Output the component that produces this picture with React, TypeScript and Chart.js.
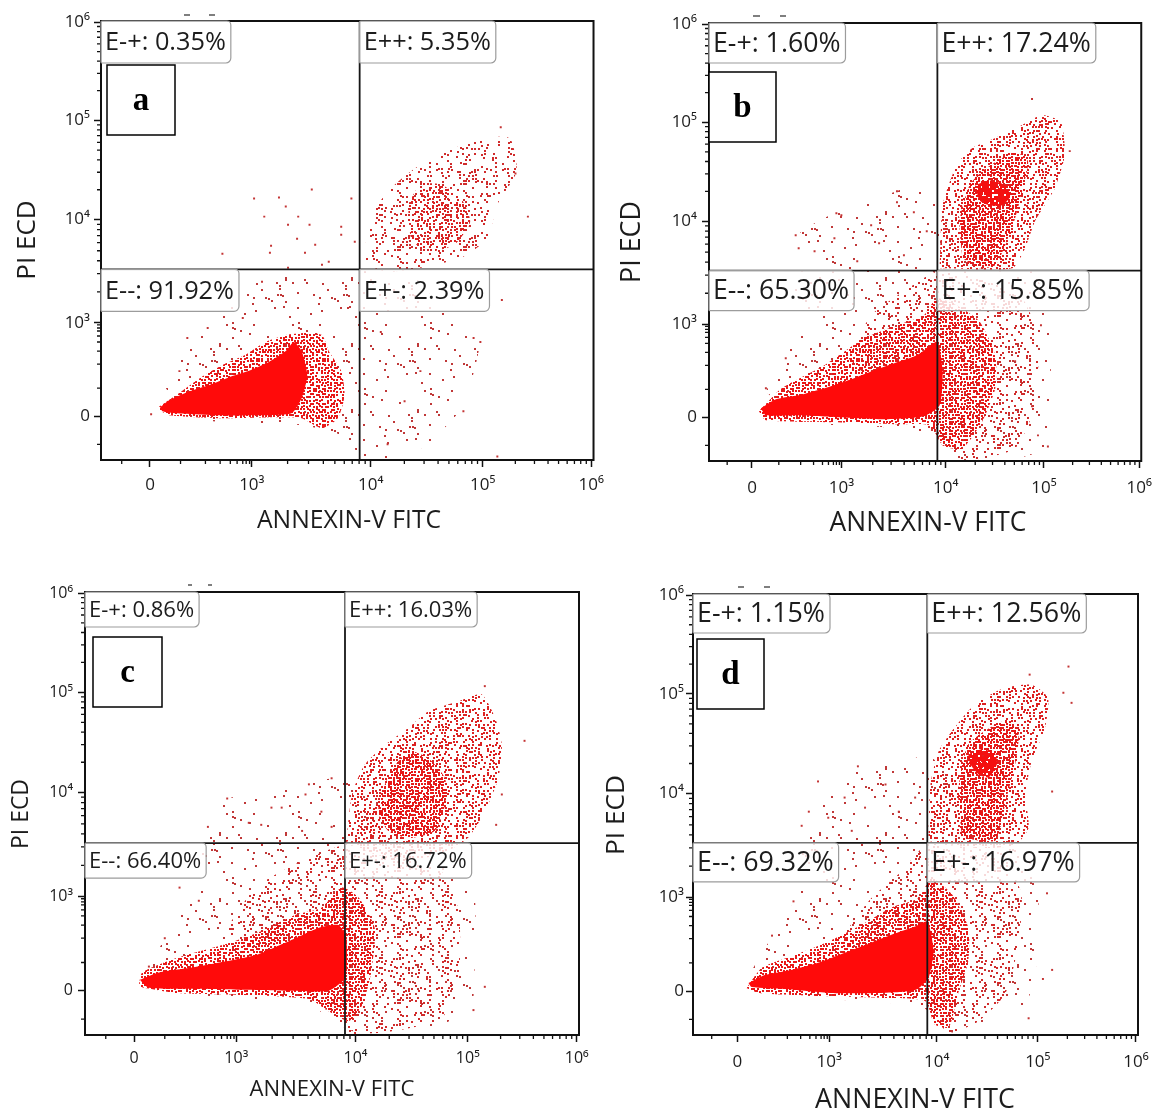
import React, { useEffect, useRef } from 'react';
import { Chart, registerables } from 'chart.js';

Chart.register(...registerables);

type Pt = [number, number];

// Both axes use biexponential display units (decades); "0" sits a little below 10³.
const X_MIN = 1.667;
const X_MAX = 6.02;
const Y_MIN = 1.634;
const Y_MAX = 6.01;
const X_TICK_POS = [2.1, 3.0, 4.05, 5.04, 6.0];
const Y_TICK_POS = [2.07, 3.0, 4.03, 5.02, 6.0];
const TICK_LABELS = ['0', '10³', '10⁴', '10⁵', '10⁶'];
const X_LOW_MINOR = [1.85, 2.37, 2.59, 2.72, 2.81, 2.87, 2.92, 2.95, 2.98];
const Y_LOW_MINOR = [1.79, 2.35, 2.59, 2.72, 2.81, 2.87, 2.92, 2.95, 2.98];
const QUAD_NAMES = ['E-+', 'E++', 'E--', 'E+-'];
const X_TITLE = 'ANNEXIN-V FITC';
const Y_TITLE = 'PI ECD';

// ---------- panel a ----------
const A_QUAD = ['0.35', '5.35', '91.92', '2.39'];
const A_GATE: Pt = [3.953, 3.535];
const A_CORE: Pt[] = [[2.19,2.16],[2.27,2.23],[2.45,2.32],[2.62,2.38],[2.80,2.46],[2.97,2.52],[3.15,2.61],[3.30,2.72],[3.37,2.81],[3.44,2.72],[3.49,2.48],[3.44,2.25],[3.35,2.10],[3.03,2.08],[2.68,2.08],[2.33,2.10],[2.21,2.12]];
const A_MID: Pt[] = [[2.16,2.15],[2.33,2.28],[2.54,2.45],[2.74,2.58],[2.94,2.68],[3.12,2.81],[3.30,2.88],[3.47,2.90],[3.62,2.88],[3.68,2.72],[3.79,2.52],[3.82,2.28],[3.76,2.05],[3.62,1.95],[3.44,2.05],[3.21,2.06],[2.74,2.05],[2.27,2.08]];
const A_HALO: Pt[] = [[2.24,2.35],[2.45,2.88],[2.80,3.18],[3.03,3.41],[3.44,3.48],[3.79,3.51],[4.20,3.51],[4.49,3.41],[4.64,3.18],[4.87,2.98],[5.02,2.85],[4.87,2.18],[4.61,1.85],[4.35,1.65],[4.00,1.65],[3.79,1.88],[3.44,1.98],[2.45,2.05]];
const A_UR: Pt[] = [[4.00,3.58],[4.03,4.01],[4.20,4.31],[4.44,4.54],[4.73,4.71],[5.02,4.84],[5.28,4.84],[5.34,4.51],[5.17,4.18],[5.08,3.84],[4.85,3.65],[4.49,3.55],[4.20,3.51]];
const A_UR_CORE: Pt[] = [[4.38,4.18],[4.49,4.38],[4.67,4.38],[4.85,4.24],[4.93,4.01],[4.79,3.78],[4.55,3.71],[4.41,3.84]];
const A_DOTS: Pt[] = [[3.02,4.24],[3.24,4.25],[3.30,4.16],[3.53,4.33],[3.11,4.06],[3.41,4.06],[3.32,3.98],[3.51,3.98],[2.74,3.69],[3.17,3.77],[3.40,3.84],[3.56,3.78],[3.47,3.70],[3.79,3.96],[3.88,4.24],[3.91,3.81],[3.68,3.61],[3.32,3.55],[3.79,3.88],[3.62,3.58],[3.16,3.70],[5.20,4.95],[5.44,4.06],[5.33,4.49],[5.21,3.23],[4.96,2.85],[5.02,2.81],[5.17,1.67],[4.87,2.12],[2.11,2.09],[2.43,2.85],[2.36,2.52],[2.61,2.95],[2.92,3.05],[3.09,3.41],[3.85,3.15],[4.14,2.91],[4.35,2.22],[4.49,2.52],[4.20,1.79]];

// ---------- panel b ----------
const B_QUAD = ['1.60', '17.24', '65.30', '15.85'];
const B_GATE: Pt = [3.967, 3.536];
const B_CORE: Pt[] = [[2.19,2.16],[2.34,2.25],[2.57,2.29],[2.83,2.36],[3.10,2.45],[3.33,2.54],[3.56,2.62],[3.76,2.69],[3.89,2.78],[3.97,2.83],[4.02,2.53],[3.99,2.19],[3.83,2.08],[3.43,2.05],[2.97,2.07],[2.57,2.09],[2.24,2.09]];
const B_MID: Pt[] = [[2.17,2.13],[2.40,2.36],[2.83,2.59],[3.23,2.86],[3.56,2.99],[3.83,3.09],[3.96,3.26],[4.16,3.19],[4.39,3.03],[4.55,2.69],[4.55,2.36],[4.42,2.03],[4.22,1.76],[4.02,1.79],[3.89,1.99],[3.56,2.00],[2.90,2.02],[2.24,2.04]];
const B_LR: Pt[] = [[3.07,2.66],[3.30,3.09],[3.63,3.33],[3.97,3.53],[4.39,3.46],[4.82,3.26],[4.98,2.86],[4.95,2.19],[4.75,1.76],[4.22,1.64],[3.97,1.86],[3.56,2.19]];
const B_HALO: Pt[] = [[2.24,2.33],[2.54,2.89],[2.54,3.86],[2.97,4.13],[3.56,4.33],[3.96,4.46],[4.22,4.03],[4.88,3.59],[5.08,3.19],[5.08,1.79],[4.75,1.66],[4.09,1.64],[3.89,1.86],[3.56,1.96],[2.57,2.03]];
const B_UR: Pt[] = [[3.99,3.56],[4.02,4.19],[4.16,4.59],[4.32,4.76],[4.55,4.86],[4.82,4.99],[5.02,5.09],[5.21,5.02],[5.25,4.69],[5.15,4.36],[4.95,4.03],[4.85,3.76],[4.72,3.56]];
const B_UR_DENSE: Pt[] = [[4.22,3.66],[4.19,4.03],[4.29,4.39],[4.42,4.53],[4.62,4.66],[4.75,4.72],[4.88,4.63],[4.82,4.33],[4.75,4.06],[4.65,3.79],[4.55,3.59],[4.39,3.56]];
const B_UR_SPOT: Pt[] = [[4.35,4.39],[4.49,4.44],[4.65,4.39],[4.70,4.28],[4.62,4.19],[4.49,4.19],[4.39,4.24]];
const B_DOTS: Pt[] = [[4.92,5.25],[5.30,4.73],[5.08,1.78],[4.92,2.18],[2.44,2.66],[2.54,3.89],[2.95,4.11],[3.56,4.33],[2.24,2.36],[4.98,1.89],[4.75,2.63],[5.01,2.99],[3.00,4.09],[3.30,3.99],[3.38,3.81],[3.56,4.22],[3.73,4.12],[3.86,3.93],[2.73,3.73],[2.93,3.86],[3.16,3.63],[3.63,3.69],[2.57,3.76]];

// ---------- panel c ----------
const C_QUAD = ['0.86', '16.03', '66.40', '16.72'];
const C_GATE: Pt = [3.958, 3.53];
const C_CORE: Pt[] = [[2.15,2.18],[2.31,2.25],[2.61,2.30],[2.90,2.36],[3.19,2.43],[3.40,2.53],[3.58,2.62],[3.75,2.70],[3.90,2.72],[3.97,2.59],[3.96,2.20],[3.81,2.07],[3.49,2.07],[3.05,2.08],[2.61,2.09],[2.23,2.10]];
const C_MID: Pt[] = [[2.14,2.11],[2.17,2.25],[2.46,2.39],[2.90,2.53],[3.22,2.66],[3.52,2.82],[3.75,2.89],[3.93,3.09],[4.08,2.99],[4.22,2.69],[4.19,2.26],[4.11,1.93],[3.99,1.77],[3.81,1.87],[3.64,1.99],[3.05,2.03],[2.46,2.05]];
const C_LR: Pt[] = [[2.90,2.66],[3.17,3.09],[3.52,3.32],[3.96,3.51],[4.37,3.42],[4.81,3.25],[4.96,2.86],[4.96,2.20],[4.81,1.80],[4.37,1.67],[4.02,1.65],[3.81,1.87],[3.49,2.20]];
const C_HALO: Pt[] = [[2.20,2.23],[2.37,2.59],[2.61,3.02],[2.75,3.68],[2.90,3.96],[3.34,4.04],[3.87,4.17],[4.22,4.04],[4.52,3.55],[4.96,3.42],[5.10,3.02],[5.10,2.36],[5.07,1.90],[4.81,1.74],[4.37,1.67],[4.08,1.65],[3.81,1.80],[3.64,1.95],[2.46,2.03]];
const C_UR: Pt[] = [[3.97,3.55],[4.02,4.01],[4.13,4.30],[4.31,4.50],[4.52,4.67],[4.69,4.83],[4.96,4.93],[5.16,5.00],[5.28,4.77],[5.34,4.50],[5.31,4.17],[5.19,3.84],[5.04,3.58],[4.81,3.42],[4.52,3.37],[4.22,3.42]];
const C_UR_DENSE: Pt[] = [[4.40,4.30],[4.52,4.44],[4.69,4.37],[4.84,4.17],[4.84,3.91],[4.75,3.65],[4.52,3.58],[4.34,3.65],[4.25,3.84],[4.31,4.11]];
const C_DOTS: Pt[] = [[5.19,5.08],[5.54,4.54],[5.34,4.01],[5.29,3.71],[5.19,2.11],[5.09,1.88],[2.92,3.97],[2.75,3.69],[2.50,3.09],[2.67,2.96],[2.37,2.59],[2.23,2.31],[3.84,4.17],[3.61,4.01],[3.31,3.88],[3.11,3.73],[3.40,3.88],[3.64,4.11],[3.75,3.84],[3.22,3.71],[3.58,3.65],[3.84,3.69]];

// ---------- panel d ----------
const D_QUAD = ['1.15', '12.56', '69.32', '16.97'];
const D_GATE: Pt = [3.959, 3.54];
const D_CORE: Pt[] = [[2.21,2.15],[2.37,2.23],[2.63,2.28],[2.89,2.35],[3.15,2.45],[3.41,2.55],[3.64,2.64],[3.84,2.71],[3.96,2.76],[4.02,2.47],[3.97,2.20],[3.84,2.08],[3.48,2.05],[3.02,2.05],[2.57,2.09],[2.24,2.11]];
const D_MID: Pt[] = [[2.19,2.10],[2.34,2.30],[2.67,2.43],[2.99,2.56],[3.32,2.73],[3.61,2.90],[3.87,2.99],[4.00,3.19],[4.20,3.03],[4.36,2.70],[4.36,2.37],[4.26,2.04],[4.17,1.71],[4.03,1.74],[3.94,1.97],[3.55,2.00],[2.89,2.02],[2.31,2.05]];
const D_LR: Pt[] = [[3.12,2.60],[3.41,2.99],[3.71,3.26],[3.95,3.52],[4.36,3.49],[4.72,3.36],[4.88,3.03],[4.85,2.53],[4.72,2.04],[4.46,1.77],[4.17,1.66],[3.97,1.87],[3.55,2.20]];
const D_HALO: Pt[] = [[2.24,2.27],[2.47,2.66],[2.67,2.99],[2.76,3.72],[2.96,4.05],[3.28,4.28],[3.71,4.32],[3.95,4.42],[4.20,4.19],[4.85,3.52],[5.01,3.29],[5.05,2.86],[5.01,2.20],[4.85,1.80],[4.52,1.74],[4.20,1.66],[3.94,1.87],[3.55,1.96],[2.57,2.02]];
const D_UR: Pt[] = [[3.97,3.56],[3.99,4.12],[4.07,4.45],[4.20,4.65],[4.36,4.85],[4.52,4.98],[4.72,5.08],[4.98,5.11],[5.14,4.98],[5.11,4.68],[4.98,4.35],[4.92,4.02],[4.95,3.69],[4.82,3.52],[4.46,3.49]];
const D_UR_DENSE: Pt[] = [[4.30,3.59],[4.26,4.02],[4.30,4.32],[4.36,4.52],[4.52,4.65],[4.72,4.75],[4.85,4.62],[4.82,4.32],[4.75,4.05],[4.69,3.79],[4.62,3.56]];
const D_UR_SPOT: Pt[] = [[4.36,4.42],[4.49,4.47],[4.62,4.43],[4.64,4.32],[4.56,4.19],[4.46,4.22],[4.38,4.32]];
const D_DOTS: Pt[] = [[5.34,5.29],[4.96,5.21],[5.29,5.03],[5.37,4.93],[5.18,4.05],[5.13,3.04],[5.18,2.28],[5.09,2.19],[4.95,1.80],[2.89,4.15],[3.28,4.30],[2.80,3.85],[2.65,2.96],[2.44,2.62],[2.73,3.71],[3.15,3.99],[3.35,3.89],[3.55,4.12],[3.68,3.85],[3.84,3.99],[3.22,3.66],[2.99,3.79]];

type Tex = 'solid' | 'heavy' | 'dense' | 'medium' | 'light' | 'haze';
type Layer = { pts: Pt[]; tex: Tex };

interface PanelSpec {
  letter: string;
  quad: string[];
  gate: Pt;
  dots: Pt[];
  layers: Layer[];
  box: { x: number; y: number; w: number; h: number };
  area: { l: number; t: number; r: number; b: number };
  labelSize: number;
  labelBoxH: number;
  tickSize: number;
  xTickPad: number;
  yTickPad: number;
  xTitle: { x: number; y: number; size: number };
  yTitle: { x: number; y: number; size: number };
  letterBox: { dx: number; dy: number; w: number; h: number };
  dashes: { y: number; xs: number[][] };
}

const PANELS: PanelSpec[] = [
  {
    letter: 'a', quad: A_QUAD, gate: A_GATE, dots: A_DOTS,
    layers: [
      { pts: A_CORE, tex: 'solid' },
      { pts: A_UR_CORE, tex: 'medium' },
      { pts: A_MID, tex: 'dense' },
      { pts: A_UR, tex: 'light' },
      { pts: A_HALO, tex: 'haze' },
    ],
    box: { x: 0, y: 0, w: 612, h: 545 },
    area: { l: 101, t: 21, r: 597, b: 460 },
    labelSize: 25.3, labelBoxH: 42, tickSize: 17, xTickPad: 8, yTickPad: 4,
    xTitle: { x: 349, y: 521, size: 24.7 }, yTitle: { x: 28, y: 240, size: 26 },
    letterBox: { dx: 6, dy: 44, w: 68, h: 70 },
    dashes: { y: 15, xs: [[184, 190], [209, 215]] },
  },
  {
    letter: 'b', quad: B_QUAD, gate: B_GATE, dots: B_DOTS,
    layers: [
      { pts: B_CORE, tex: 'solid' },
      { pts: B_UR_SPOT, tex: 'heavy' },
      { pts: B_UR_DENSE, tex: 'dense' },
      { pts: B_MID, tex: 'dense' },
      { pts: B_UR, tex: 'medium' },
      { pts: B_LR, tex: 'light' },
      { pts: B_HALO, tex: 'haze' },
    ],
    box: { x: 600, y: 0, w: 562, h: 545 },
    area: { l: 709, t: 23, r: 1148, b: 461 },
    labelSize: 26.7, labelBoxH: 40, tickSize: 17, xTickPad: 10, yTickPad: 5,
    xTitle: { x: 928, y: 523, size: 26.4 }, yTitle: { x: 632, y: 242, size: 26.8 },
    letterBox: { dx: 0, dy: 49, w: 67, h: 70 },
    dashes: { y: 16, xs: [[753, 760], [780, 786]] },
  },
  {
    letter: 'c', quad: C_QUAD, gate: C_GATE, dots: C_DOTS,
    layers: [
      { pts: C_CORE, tex: 'solid' },
      { pts: C_UR_DENSE, tex: 'dense' },
      { pts: C_MID, tex: 'dense' },
      { pts: C_UR, tex: 'medium' },
      { pts: C_LR, tex: 'light' },
      { pts: C_HALO, tex: 'haze' },
    ],
    box: { x: 0, y: 555, w: 600, h: 558 },
    area: { l: 85, t: 592, r: 579, b: 1035 },
    labelSize: 22, labelBoxH: 35, tickSize: 16, xTickPad: 7, yTickPad: 5,
    xTitle: { x: 332, y: 1090, size: 22.1 }, yTitle: { x: 21, y: 814, size: 22.9 },
    letterBox: { dx: 8, dy: 45, w: 69, h: 70 },
    dashes: { y: 585, xs: [[188, 192], [208, 212]] },
  },
  {
    letter: 'd', quad: D_QUAD, gate: D_GATE, dots: D_DOTS,
    layers: [
      { pts: D_CORE, tex: 'solid' },
      { pts: D_UR_SPOT, tex: 'heavy' },
      { pts: D_UR_DENSE, tex: 'dense' },
      { pts: D_MID, tex: 'dense' },
      { pts: D_UR, tex: 'medium' },
      { pts: D_LR, tex: 'light' },
      { pts: D_HALO, tex: 'haze' },
    ],
    box: { x: 600, y: 555, w: 562, h: 570 },
    area: { l: 693, t: 594, r: 1138, b: 1035 },
    labelSize: 26.8, labelBoxH: 39, tickSize: 17, xTickPad: 10, yTickPad: 2,
    xTitle: { x: 915, y: 1100, size: 26.8 }, yTitle: { x: 617, y: 815, size: 26.2 },
    letterBox: { dx: 4, dy: 45, w: 67, h: 70 },
    dashes: { y: 587, xs: [[738, 744], [764, 770]] },
  },
];

const FONT = "'Open Sans', 'DejaVu Sans', sans-serif";
const TEXT_COLOR = '#1c1c1c';
const EVENT_RED = '#c43434';

// Speckled fill textures for the density bands of the event clouds:
// 2px dots on a 3px lattice (2px for the heavy band), each site on or off.
const TEX_STYLE: Record<Exclude<Tex, 'solid'>, { density: number; color: string; seed: number; step: number }> = {
  haze: { density: 0.1, color: '#c03838', seed: 11, step: 3 },
  light: { density: 0.3, color: '#d02c2c', seed: 23, step: 3 },
  medium: { density: 0.6, color: '#dc2222', seed: 37, step: 3 },
  dense: { density: 0.95, color: '#e81818', seed: 53, step: 3 },
  heavy: { density: 0.78, color: '#f41010', seed: 71, step: 2 },
};

function mix(i: number, j: number, seed: number): number {
  let h = Math.imul((i * 73856093) ^ (j * 19349663) ^ (seed * 83492791), 0x9e3779b1);
  h ^= h >>> 15;
  h = Math.imul(h, 0x85ebca6b);
  h ^= h >>> 13;
  return h >>> 0;
}

function speckle(density: number, color: string, seed: number, step: number): CanvasPattern | string {
  const n = 66;
  const c = document.createElement('canvas');
  c.width = n;
  c.height = n;
  const g = c.getContext('2d');
  if (!g) return color;
  g.fillStyle = color;
  for (let j = 0; j < n; j += step) {
    for (let i = 0; i < n; i += step) {
      const h = mix(i, j, seed);
      if (h / 4294967296 < density) {
        const jx = step > 2 ? (h >>> 3) & 1 : 0;
        const jy = step > 2 ? (h >>> 5) & 1 : 0;
        g.fillRect(i + jx, j + jy, 2, 2);
      }
    }
  }
  return g.createPattern(c, 'repeat') || color;
}

function decadeMinors(major: number[]): number[] {
  const out: number[] = [];
  for (let k = 1; k < major.length - 1; k++) {
    const a = major[k];
    const b = major[k + 1];
    for (let m = 2; m <= 9; m++) out.push(a + (b - a) * Math.log10(m));
  }
  return out;
}

const X_MINOR = [...X_LOW_MINOR, ...decadeMinors(X_TICK_POS)];
const Y_MINOR = [...Y_LOW_MINOR, ...decadeMinors(Y_TICK_POS)];

const toXY = (pts: Pt[]) => pts.map(([x, y]) => ({ x, y }));
const closed = (pts: Pt[]) => toXY([...pts, pts[0]]);

const flowDecor = {
  id: 'flowDecor',
  afterDatasetsDraw(chart: any, _args: any, opts: any) {
    const p: PanelSpec = opts.panel;
    if (!p) return;
    const { ctx, chartArea: a, scales } = chart;
    const xs = scales.x;
    const ys = scales.y;
    const ox = p.box.x;
    const oy = p.box.y;
    ctx.save();

    // plot frame
    ctx.strokeStyle = '#111';
    ctx.lineWidth = 2;
    ctx.strokeRect(a.left, a.top, a.right - a.left, a.bottom - a.top);

    // minor tick marks
    ctx.lineWidth = 1.3;
    ctx.beginPath();
    for (const v of X_MINOR) {
      const px = xs.getPixelForValue(v);
      ctx.moveTo(px, a.bottom);
      ctx.lineTo(px, a.bottom + 4);
    }
    for (const v of Y_MINOR) {
      const py = ys.getPixelForValue(v);
      ctx.moveTo(a.left - 4, py);
      ctx.lineTo(a.left, py);
    }
    ctx.stroke();

    // quadrant statistics
    const gx = xs.getPixelForValue(p.gate[0]);
    const gy = ys.getPixelForValue(p.gate[1]);
    const anchors = [[a.left, a.top], [gx, a.top], [a.left, gy], [gx, gy]];
    ctx.font = `${p.labelSize}px ${FONT}`;
    ctx.textBaseline = 'middle';
    ctx.textAlign = 'left';
    anchors.forEach(([x, y], i) => {
      const text = `${QUAD_NAMES[i]}: ${p.quad[i]}%`;
      const w = ctx.measureText(text).width + 9;
      ctx.beginPath();
      ctx.roundRect(x, y, w, p.labelBoxH, [1, 4, 5, 1]);
      ctx.fillStyle = 'rgba(255,255,255,0.82)';
      ctx.fill();
      ctx.strokeStyle = '#9c9c9c';
      ctx.lineWidth = 1.2;
      ctx.stroke();
      ctx.fillStyle = TEXT_COLOR;
      ctx.fillText(text, x + 4, y + p.labelBoxH / 2 + 1);
    });

    // panel letter
    const lb = p.letterBox;
    const bx = a.left + lb.dx;
    const by = a.top + lb.dy;
    ctx.fillStyle = '#fff';
    ctx.fillRect(bx, by, lb.w, lb.h);
    ctx.strokeStyle = '#000';
    ctx.lineWidth = 1.5;
    ctx.strokeRect(bx, by, lb.w, lb.h);
    ctx.fillStyle = '#000';
    ctx.font = `bold 33px 'Liberation Serif', 'DejaVu Serif', serif`;
    ctx.textAlign = 'center';
    ctx.textBaseline = 'middle';
    ctx.fillText(p.letter, bx + lb.w / 2, by + lb.h / 2 + 1);

    // small marks above the frame
    ctx.strokeStyle = '#555';
    ctx.lineWidth = 1.6;
    ctx.beginPath();
    for (const [x0, x1] of p.dashes.xs) {
      ctx.moveTo(x0 - ox, p.dashes.y - oy);
      ctx.lineTo(x1 - ox, p.dashes.y - oy);
    }
    ctx.stroke();

    // axis titles
    ctx.fillStyle = TEXT_COLOR;
    ctx.textAlign = 'center';
    ctx.textBaseline = 'middle';
    ctx.font = `${p.xTitle.size}px ${FONT}`;
    ctx.fillText(X_TITLE, p.xTitle.x - ox, p.xTitle.y - oy);
    ctx.save();
    ctx.translate(p.yTitle.x - ox, p.yTitle.y - oy);
    ctx.rotate(-Math.PI / 2);
    ctx.font = `${p.yTitle.size}px ${FONT}`;
    ctx.fillText(Y_TITLE, 0, 0);
    ctx.restore();

    ctx.restore();
  },
};

function buildDatasets(p: PanelSpec, textures: Record<string, CanvasPattern | string>) {
  const gateColor = '#151515';
  const sets: any[] = [
    {
      data: toXY([[p.gate[0], Y_MIN], [p.gate[0], Y_MAX]]),
      borderColor: gateColor, borderWidth: 1.8, pointRadius: 0, fill: false,
    },
    {
      data: toXY([[X_MIN, p.gate[1]], [X_MAX, p.gate[1]]]),
      borderColor: gateColor, borderWidth: 1.8, pointRadius: 0, fill: false,
    },
    {
      data: toXY(p.dots),
      showLine: false, pointStyle: 'rect', pointRadius: 1.4,
      pointBackgroundColor: EVENT_RED, pointBorderWidth: 0,
    },
  ];
  for (const layer of p.layers) {
    sets.push({
      data: closed(layer.pts),
      showLine: true,
      borderColor: 'rgba(0,0,0,0)',
      borderWidth: 1,
      pointRadius: 0,
      tension: 0.2,
      fill: 'shape',
      backgroundColor: textures[layer.tex],
    });
  }
  return sets;
}

function FlowPanel({ spec }: { spec: PanelSpec }) {
  const ref = useRef<HTMLCanvasElement>(null);
  useEffect(() => {
    const canvas = ref.current;
    if (!canvas) return;
    const textures: Record<string, CanvasPattern | string> = { solid: '#ff0a0a' };
    (Object.keys(TEX_STYLE) as (keyof typeof TEX_STYLE)[]).forEach((k) => {
      const s = TEX_STYLE[k];
      textures[k] = speckle(s.density, s.color, s.seed, s.step);
    });
    const { box, area } = spec;
    const tickFont = { family: FONT, size: spec.tickSize };
    const chart = new Chart(canvas, {
      type: 'line',
      data: { datasets: buildDatasets(spec, textures) },
      options: {
        animation: false,
        responsive: false,
        events: [],
        layout: {
          autoPadding: false,
          padding: { left: 0, top: area.t - box.y, right: box.x + box.w - area.r, bottom: 0 },
        },
        plugins: {
          legend: { display: false },
          tooltip: { enabled: false },
          flowDecor: { panel: spec },
        } as any,
        scales: {
          x: {
            type: 'linear',
            min: X_MIN,
            max: X_MAX,
            border: { display: false },
            grid: { drawOnChartArea: false, drawTicks: true, tickLength: 7, tickColor: '#111', tickWidth: 1.5 },
            ticks: {
              autoSkip: false, maxRotation: 0, minRotation: 0,
              padding: spec.xTickPad, color: TEXT_COLOR, font: tickFont,
              callback: (_v: any, i: number) => TICK_LABELS[i],
            },
            afterBuildTicks: (s: any) => { s.ticks = X_TICK_POS.map((value) => ({ value })); },
            afterFit: (s: any) => { s.height = box.y + box.h - area.b; },
          },
          y: {
            type: 'linear',
            min: Y_MIN,
            max: Y_MAX,
            border: { display: false },
            grid: { drawOnChartArea: false, drawTicks: true, tickLength: 7, tickColor: '#111', tickWidth: 1.5 },
            ticks: {
              autoSkip: false,
              padding: spec.yTickPad, color: TEXT_COLOR, font: tickFont,
              callback: (_v: any, i: number) => TICK_LABELS[i],
            },
            afterBuildTicks: (s: any) => { s.ticks = Y_TICK_POS.map((value) => ({ value })); },
            afterFit: (s: any) => { s.width = area.l - box.x; },
          },
        },
      } as any,
      plugins: [flowDecor as any],
    });
    return () => chart.destroy();
  }, [spec]);
  const { box } = spec;
  return (
    <canvas
      ref={ref}
      width={box.w}
      height={box.h}
      style={{ position: 'absolute', left: box.x, top: box.y, width: box.w, height: box.h }}
    />
  );
}

export default function App() {
  return (
    <div
      style={{
        position: 'absolute', left: 0, top: 0, width: 1162, height: 1113,
        overflow: 'hidden', background: '#fff',
      }}
    >
      {PANELS.map((p) => (
        <FlowPanel key={p.letter} spec={p} />
      ))}
    </div>
  );
}
